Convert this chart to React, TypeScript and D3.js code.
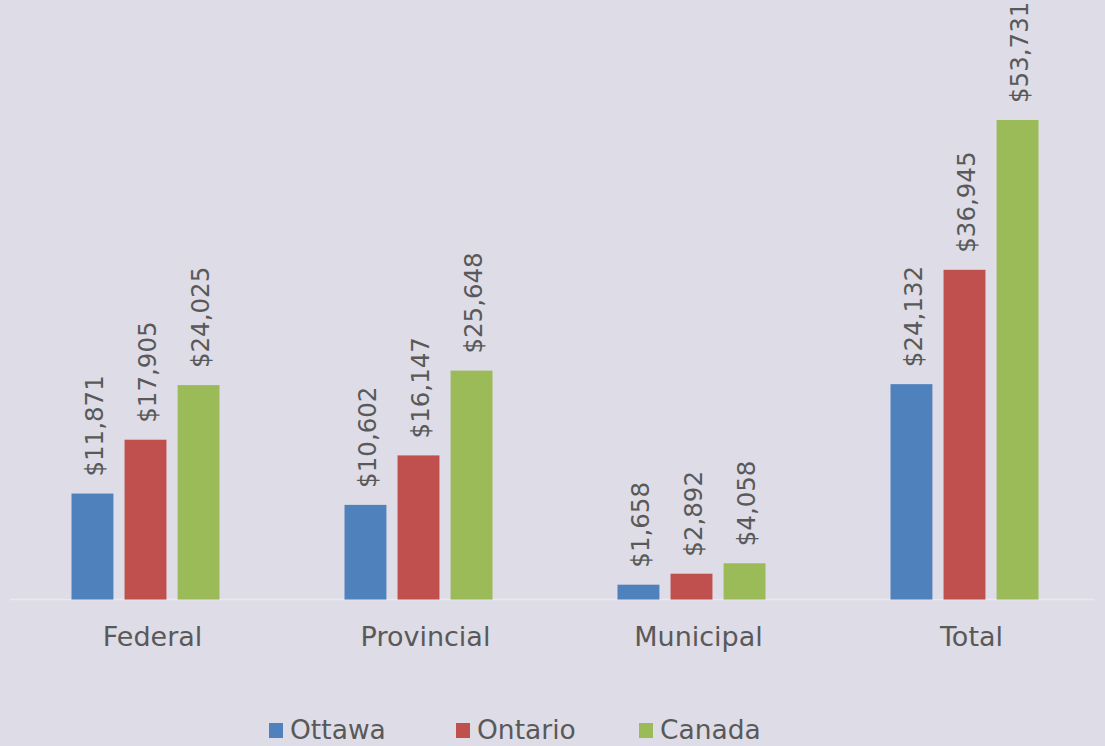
import React from "react";
import * as d3 from "d3";

const categories = ["Federal", "Provincial", "Municipal", "Total"];
const seriesNames = ["Ottawa", "Ontario", "Canada"];
const ottawa = [11871, 10602, 1658, 24132];
const ontario = [17905, 16147, 2892, 36945];
const canada = [24025, 25648, 4058, 53731];
const colors = ["#4f81bd", "#c0504d", "#9bbb59"];

const W = 1105;
const H = 746;
const FONT = "'DejaVu Sans', sans-serif";
const TEXT = "#595959";

export default function App() {
  const values = [ottawa, ontario, canada];
  const x0 = d3.scaleBand<string>().domain(categories).range([9, 1101]).padding(0);
  const x1 = d3.scaleBand<string>().domain(seriesNames).range([-74, 74]).paddingInner(0.21).paddingOuter(0);
  const y = d3.scaleLinear().domain([0, 60000]).range([599.5, 599.5 - (60000 * 479.5) / 53731]);
  const fmt = (v: number) => "$" + d3.format(",")(v);

  return (
    <svg width={W} height={H} style={{ position: "absolute", left: 0, top: 0 }}>
      <rect x={0} y={0} width={W} height={H} fill="#dedce6" />
      <line x1={10} x2={1095} y1={599.5} y2={599.5} stroke="#e9e7ef" strokeWidth={1.5} />
      {categories.map((c, ci) => {
        const cx = (x0(c) as number) + x0.bandwidth() / 2;
        return (
          <g key={c}>
            {seriesNames.map((s, si) => {
              const v = values[si][ci];
              const bx = cx + (x1(s) as number);
              const bw = x1.bandwidth();
              const top = y(v);
              return (
                <g key={s}>
                  <rect x={bx} y={top} width={bw} height={y(0) - top} fill={colors[si]} />
                  <text
                    transform={`translate(${bx + bw / 2 + 2},${top - 17}) rotate(-90)`}
                    dominantBaseline="central"
                    fontFamily={FONT}
                    fontSize={24.5}
                    fill={TEXT}
                  >
                    {fmt(v)}
                  </text>
                </g>
              );
            })}
            <text x={cx + 7} y={646} textAnchor="middle" fontFamily={FONT} fontSize={27} fill={TEXT}>
              {c}
            </text>
          </g>
        );
      })}
      {seriesNames.map((s, i) => {
        const lx = [269, 456, 639][i];
        return (
          <g key={s}>
            <rect x={lx} y={723} width={14} height={15} fill={colors[i]} />
            <text x={lx + 21} y={739} fontFamily={FONT} fontSize={26.5} fill={TEXT}>
              {s}
            </text>
          </g>
        );
      })}
    </svg>
  );
}
